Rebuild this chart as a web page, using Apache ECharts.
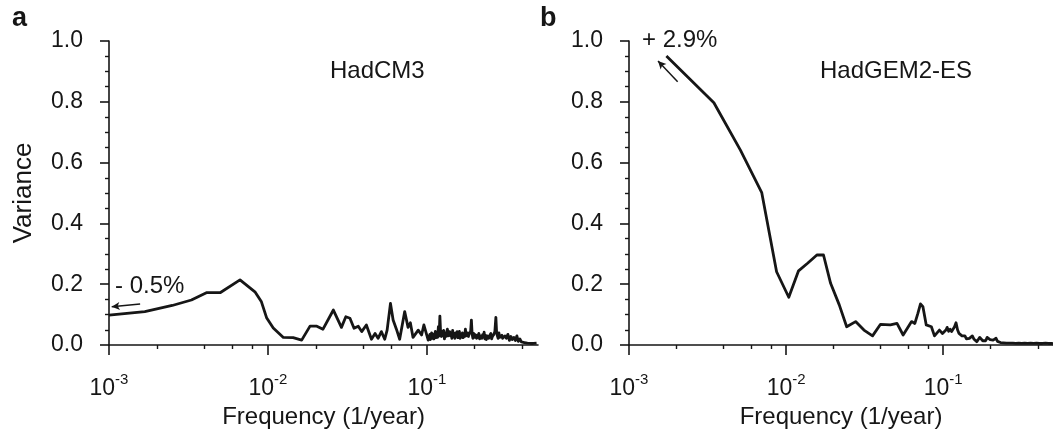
<!DOCTYPE html>
<html>
<head>
<meta charset="utf-8">
<script src="https://cdn.jsdelivr.net/npm/echarts@6/dist/echarts.min.js"></script>
<style>
html,body{margin:0;padding:0;background:#fff;}
#chart{width:1053px;height:438px;}
</style>
</head>
<body>
<div id="chart"></div>
<script>
// ---- Data ----
const panelLabels = ['a', 'b'];
const modelNames = ['HadCM3', 'HadGEM2-ES'];
const trendLabels = ['- 0.5%', '+ 2.9%'];
const xAxisTitle = 'Frequency (1/year)';
const yAxisTitle = 'Variance';
const xMajorTicks = [0.001, 0.01, 0.1];
const xMinorTicks = [0.002, 0.004, 0.006, 0.008, 0.02, 0.04, 0.06, 0.08, 0.2, 0.4];

// Panel a: HadCM3
const freqA = [
  0.00100, 0.00168, 0.00250, 0.00330, 0.00410, 0.00500, 0.00667, 0.00828, 0.00910, 0.00980,
  0.01080, 0.01250, 0.01440, 0.01630, 0.01840, 0.02030, 0.02220, 0.02580, 0.02900, 0.03090,
  0.03280, 0.03480, 0.03700, 0.03890, 0.04160, 0.04480, 0.04720, 0.04930, 0.05170, 0.05430,
  0.05620, 0.05900, 0.06130, 0.06430, 0.06740, 0.07250, 0.07610, 0.07870, 0.08180, 0.08820,
  0.09260, 0.09570, 0.10190,
  0.1044, 0.1052, 0.1060, 0.1071, 0.1083, 0.1095, 0.1107, 0.1119, 0.1131, 0.1143,
  0.1156, 0.1168, 0.1181, 0.1194, 0.1207, 0.1220, 0.1234, 0.1247, 0.1261, 0.1275,
  0.1289, 0.1303, 0.1317, 0.1331, 0.1346, 0.1360, 0.1375, 0.1390, 0.1406, 0.1421,
  0.1436, 0.1452, 0.1468, 0.1484, 0.1500, 0.1516, 0.1533, 0.1550, 0.1567, 0.1584,
  0.1601, 0.1619, 0.1637, 0.1655, 0.1673, 0.1691, 0.1709, 0.1728, 0.1747, 0.1766,
  0.1785, 0.1805, 0.1824, 0.1844, 0.1864, 0.1884, 0.1905, 0.1926, 0.1947, 0.1968,
  0.1990, 0.2012, 0.2033, 0.2055, 0.2078, 0.2101, 0.2123, 0.2146, 0.2170, 0.2194,
  0.2218, 0.2242, 0.2266, 0.2291, 0.2316, 0.2341, 0.2367, 0.2393, 0.2419, 0.2446,
  0.2472, 0.2499, 0.2526, 0.2554, 0.2582, 0.2610, 0.2638, 0.2677, 0.2716, 0.2746,
  0.2776, 0.2806, 0.2837, 0.2868, 0.2899, 0.2931, 0.2963, 0.2995, 0.3028, 0.3061,
  0.3094, 0.3162, 0.3232, 0.3303, 0.3375, 0.3449, 0.3525, 0.3602, 0.3681, 0.3762,
  0.3845, 0.3929, 0.4015, 0.4103, 0.4193, 0.4285, 0.4379, 0.4476, 0.4574, 0.4675,
  0.4777, 0.4898
];
const varA = [
  0.098, 0.110, 0.130, 0.148, 0.172, 0.172, 0.214, 0.175, 0.142, 0.090,
  0.056, 0.025, 0.024, 0.016, 0.062, 0.062, 0.052, 0.115, 0.058, 0.093,
  0.088, 0.055, 0.062, 0.044, 0.066, 0.019, 0.038, 0.022, 0.044, 0.019,
  0.049, 0.137, 0.082, 0.052, 0.019, 0.110, 0.058, 0.073, 0.025, 0.049,
  0.033, 0.066, 0.016,
  0.035, 0.018, 0.028, 0.040, 0.022, 0.036, 0.020, 0.030, 0.045, 0.024,
  0.038, 0.025, 0.060, 0.030, 0.095, 0.040, 0.028, 0.045, 0.032, 0.048,
  0.020, 0.036, 0.028, 0.042, 0.052, 0.030, 0.025, 0.044, 0.030, 0.040,
  0.022, 0.048, 0.028, 0.038, 0.022, 0.040, 0.030, 0.044, 0.024, 0.036,
  0.045, 0.022, 0.034, 0.026, 0.040, 0.024, 0.035, 0.028, 0.052, 0.030,
  0.024, 0.040, 0.028, 0.036, 0.030, 0.045, 0.082, 0.035, 0.022, 0.038,
  0.025, 0.034, 0.040, 0.022, 0.032, 0.025, 0.038, 0.020, 0.030, 0.036,
  0.022, 0.034, 0.026, 0.042, 0.020, 0.032, 0.018, 0.030, 0.035, 0.022,
  0.030, 0.024, 0.038, 0.020, 0.028, 0.034, 0.035, 0.045, 0.091, 0.040,
  0.030, 0.022, 0.040, 0.025, 0.020, 0.030, 0.032, 0.022, 0.018, 0.028,
  0.030, 0.022, 0.035, 0.015, 0.028, 0.018, 0.025, 0.015, 0.030, 0.012,
  0.020, 0.010, 0.015, 0.008, 0.012, 0.006, 0.010, 0.005, 0.009, 0.005,
  0.008, 0.006
];

// Panel b: HadGEM2-ES
const freqB = [
  0.00173, 0.00347, 0.00512, 0.00700, 0.00870, 0.01040, 0.01200, 0.01370, 0.01570, 0.01730,
  0.01920, 0.02180, 0.02430, 0.02770, 0.03130, 0.03550, 0.03990, 0.04610, 0.05080, 0.05560,
  0.06290, 0.06600, 0.06900, 0.07170, 0.07430, 0.07800, 0.08410, 0.08800, 0.09460, 0.09900,
  0.1044, 0.1060, 0.1083, 0.1107, 0.1131, 0.1156, 0.1181, 0.1207, 0.1234, 0.1261,
  0.1289, 0.1317, 0.1346, 0.1375, 0.1406, 0.1436, 0.1468, 0.1500, 0.1533, 0.1567,
  0.1601, 0.1637, 0.1673, 0.1709, 0.1747, 0.1785, 0.1824, 0.1864, 0.1905, 0.1947,
  0.1990, 0.2033, 0.2078, 0.2123, 0.2170, 0.2218, 0.2266, 0.2316, 0.2367, 0.2419,
  0.2472, 0.2526, 0.2582, 0.2638, 0.2716, 0.2776, 0.2837, 0.2899, 0.2963, 0.3028,
  0.3094, 0.3162, 0.3232, 0.3303, 0.3375, 0.3449, 0.3525, 0.3602, 0.3681, 0.3762,
  0.3845, 0.3929, 0.4015, 0.4103, 0.4193, 0.4285, 0.4379, 0.4476, 0.4574, 0.4675,
  0.4777, 0.4898, 0.5000
];
const varB = [
  0.951, 0.797, 0.641, 0.501, 0.241, 0.157, 0.244, 0.269, 0.296, 0.296,
  0.203, 0.132, 0.060, 0.077, 0.049, 0.030, 0.068, 0.066, 0.071, 0.033,
  0.077, 0.071, 0.104, 0.135, 0.126, 0.066, 0.060, 0.030, 0.049, 0.038,
  0.050, 0.058, 0.045, 0.052, 0.044, 0.049, 0.060, 0.073, 0.050, 0.038,
  0.042, 0.030, 0.025, 0.030, 0.020, 0.016, 0.022, 0.026, 0.030, 0.020,
  0.015, 0.011, 0.018, 0.025, 0.020, 0.014, 0.018, 0.014, 0.025, 0.030,
  0.018, 0.014, 0.016, 0.020, 0.022, 0.012, 0.006, 0.008, 0.004, 0.007,
  0.005, 0.006, 0.003, 0.006, 0.004, 0.006, 0.003, 0.005, 0.004, 0.006,
  0.003, 0.005, 0.004, 0.006, 0.003, 0.005, 0.004, 0.006, 0.003, 0.005,
  0.004, 0.006, 0.004, 0.005, 0.003, 0.005, 0.004, 0.006, 0.004, 0.005,
  0.004, 0.005, 0.004
];

// Trend arrows (data space: [frequency, variance])
const arrowA = [[0.00157, 0.135], [0.00104, 0.126]];
const arrowB = [[0.00204, 0.866], [0.00153, 0.934]];

// ---- Chart ----
const INK = '#161616';
const FONT = "'Liberation Sans', Arial, Helvetica, sans-serif";

function zip(fs, vs) { return fs.map((f, i) => [f, vs[i]]); }

function xAxes(gridIndex) {
  return [
    {
      type: 'log', gridIndex: gridIndex, position: 'bottom',
      min: 0.001, max: 0.5, logBase: 10,
      axisLine: { show: true, onZero: false, lineStyle: { color: INK, width: 1.6 } },
      axisTick: { show: true, length: 10, customValues: xMajorTicks, lineStyle: { color: INK, width: 1.6 } },
      axisLabel: {
        show: true, customValues: xMajorTicks, margin: 27,
        formatter: function (v) {
          const e = Math.round(Math.log10(v));
          return '{b|10}{s|' + e + '}';
        },
        rich: {
          b: { fontFamily: FONT, fontSize: 23, color: INK, verticalAlign: 'bottom', lineHeight: 28 },
          s: { fontFamily: FONT, fontSize: 15, color: INK, verticalAlign: 'top', lineHeight: 15 }
        }
      },
      splitLine: { show: false },
      name: xAxisTitle, nameLocation: 'middle', nameGap: 57,
      nameTextStyle: { fontFamily: FONT, fontSize: 24, color: INK }
    },
    {
      type: 'log', gridIndex: gridIndex, position: 'bottom',
      min: 0.001, max: 0.5, logBase: 10,
      axisLine: { show: false },
      axisTick: { show: true, length: 4, customValues: xMinorTicks, lineStyle: { color: INK, width: 1.4 } },
      axisLabel: { show: false },
      splitLine: { show: false }
    }
  ];
}

function yAxis(gridIndex, withName) {
  return {
    type: 'value', gridIndex: gridIndex, min: 0, max: 1, interval: 0.2,
    axisLine: { show: true, lineStyle: { color: INK, width: 1.6 } },
    axisTick: { show: true, length: 9, lineStyle: { color: INK, width: 1.6 } },
    minorTick: { show: true, splitNumber: 4, length: 4, lineStyle: { color: INK, width: 1.4 } },
    splitLine: { show: false },
    minorSplitLine: { show: false },
    axisLabel: {
      margin: 26, fontFamily: FONT, fontSize: 23, color: INK,
      formatter: v => v.toFixed(1)
    },
    name: withName ? yAxisTitle : '', nameLocation: 'middle', nameGap: 72,
    nameTextStyle: { fontFamily: FONT, fontSize: 26, color: INK }
  };
}

function lineSeries(xIdx, yIdx, data, arrow) {
  return {
    type: 'line', xAxisIndex: xIdx, yAxisIndex: yIdx, data: data,
    showSymbol: false, symbol: 'none', smooth: false,
    lineStyle: { color: INK, width: 2.8, join: 'round' },
    clip: true, silent: true, animation: false,
    markLine: {
      silent: true, animation: false,
      symbol: ['none', 'arrow'], symbolSize: [6, 8],
      lineStyle: { color: INK, width: 1.5, type: 'solid' },
      label: { show: false },
      data: [[{ coord: arrow[0] }, { coord: arrow[1] }]]
    }
  };
}

const chart = echarts.init(document.getElementById('chart'), null, { renderer: 'canvas' });

function txt(str, x, y, size, weight) {
  return {
    type: 'text', x: x, y: y, silent: true,
    style: { text: str, font: (weight ? weight + ' ' : '') + size + 'px ' + FONT, fill: INK, align: 'left', verticalAlign: 'middle' }
  };
}

const option = {
  animation: false,
  backgroundColor: '#ffffff',
  grid: [
    { left: 109, top: 41, width: 429, bottom: 93, containLabel: false },
    { left: 629, top: 41, width: 429, bottom: 93, containLabel: false }
  ],
  xAxis: [].concat(xAxes(0), xAxes(1)),
  yAxis: [yAxis(0, true), yAxis(1, false)],
  series: [
    lineSeries(0, 0, zip(freqA, varA), arrowA),
    lineSeries(2, 1, zip(freqB, varB), arrowB)
  ],
  graphic: [
    txt(panelLabels[0], 12, 19, 27, 'bold'),
    txt(panelLabels[1], 540, 19, 27, 'bold'),
    txt(modelNames[0], 330, 71, 24),
    txt(modelNames[1], 820, 71, 24),
    txt(trendLabels[0], 115, 286, 24),
    txt(trendLabels[1], 642, 40, 24)
  ]
};
chart.setOption(option);
</script>
</body>
</html>
